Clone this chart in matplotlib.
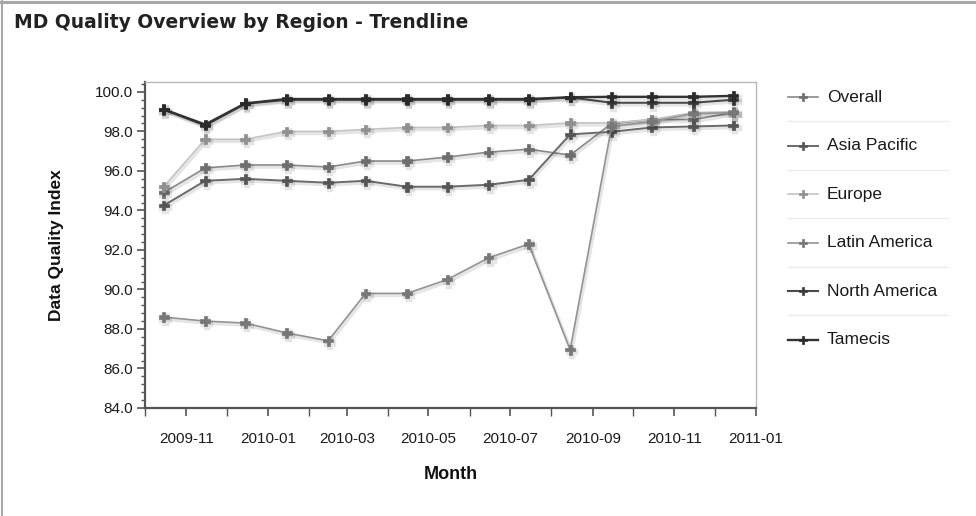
import datetime as dt
import matplotlib
matplotlib.use("Agg")
import matplotlib.pyplot as plt
import matplotlib.dates as mdates
from matplotlib.ticker import MultipleLocator, FormatStrFormatter
from matplotlib.lines import Line2D
import matplotlib.patheffects as pe

months = ["2009-10", "2009-11", "2009-12", "2010-01", "2010-02", "2010-03", "2010-04",
          "2010-05", "2010-06", "2010-07", "2010-08", "2010-09", "2010-10", "2010-11", "2010-12"]

series_names = ["Overall", "Asia Pacific", "Europe", "Latin America", "North America", "Tamecis"]

overall = [94.9, 96.15, 96.3, 96.3, 96.2, 96.5, 96.5, 96.7, 96.95, 97.1, 96.8, 98.4, 98.6, 98.6, 98.95]
asia_pacific = [94.25, 95.5, 95.6, 95.5, 95.4, 95.5, 95.2, 95.2, 95.3, 95.55, 97.85, 97.98, 98.2, 98.25, 98.3]
europe = [95.2, 97.6, 97.6, 98.0, 98.0, 98.1, 98.2, 98.2, 98.3, 98.3, 98.43, 98.43, 98.6, 98.95, 99.0]
latin_america = [88.6, 88.4, 88.3, 87.8, 87.4, 89.8, 89.8, 90.5, 91.6, 92.3, 86.95, 98.25, 98.5, 98.9, 98.95]
north_america = [99.1, 98.3, 99.4, 99.6, 99.6, 99.6, 99.6, 99.6, 99.6, 99.6, 99.72, 99.45, 99.45, 99.45, 99.6]
tamecis = [99.12, 98.35, 99.42, 99.64, 99.64, 99.64, 99.64, 99.64, 99.64, 99.64, 99.73, 99.75, 99.75, 99.75, 99.8]

values = [overall, asia_pacific, europe, latin_america, north_america, tamecis]
line_colors = ["#8a8a8a", "#6a6a6a", "#c4c4c4", "#939393", "#4a4a4a", "#333333"]
marker_colors = ["#6e6e6e", "#555555", "#909090", "#777777", "#3c3c3c", "#2a2a2a"]
line_widths = [1.2, 1.4, 1.2, 1.2, 1.5, 1.7]

xdates = [dt.datetime.strptime(m + "-15", "%Y-%m-%d") for m in months]

plt.rcParams['font.family'] = ['Liberation Sans', 'DejaVu Sans']

fig = plt.figure(figsize=(9.76, 5.16), dpi=100)
ax = fig.add_axes([145 / 976, 1 - 408 / 516, (756 - 145) / 976, (408 - 82) / 516])

shadow = [pe.SimpleLineShadow(offset=(1.0, -1.5), shadow_color="#000000", alpha=0.10, linewidth=2.5), pe.Normal()]

for name, vals, lc, mc, lw in zip(series_names, values, line_colors, marker_colors, line_widths):
    ax.plot(xdates, vals, color=lc, lw=lw, marker="P", markersize=7,
            markerfacecolor=mc, markeredgecolor=mc, markeredgewidth=0.5,
            path_effects=shadow, zorder=3, label=name)

ax.set_xlim(dt.datetime(2009, 10, 1), dt.datetime(2011, 1, 1))
ax.set_ylim(84, 100.5)

ax.xaxis.set_major_locator(mdates.MonthLocator(bymonth=[1, 3, 5, 7, 9, 11]))
ax.xaxis.set_major_formatter(mdates.DateFormatter("%Y-%m"))
ax.xaxis.set_minor_locator(mdates.MonthLocator())
ax.yaxis.set_major_locator(MultipleLocator(2))
ax.yaxis.set_minor_locator(MultipleLocator(0.4))
ax.yaxis.set_major_formatter(FormatStrFormatter("%.1f"))

ax.tick_params(axis="both", which="both", direction="out", colors="#555555", labelcolor="#1a1a1a", labelsize=11)
ax.tick_params(axis="y", which="major", length=6, width=1.2, pad=3)
ax.tick_params(axis="y", which="minor", length=3, width=1.0)
ax.tick_params(axis="x", which="major", length=6, width=1.2, pad=11)
ax.tick_params(axis="x", which="minor", length=6, width=1.0)

for s in ["left", "bottom"]:
    ax.spines[s].set_color("#555555")
    ax.spines[s].set_linewidth(1.6)
for s in ["top", "right"]:
    ax.spines[s].set_color("#b8b8b8")
    ax.spines[s].set_linewidth(1.0)

ax.set_ylabel("Data Quality Index", fontsize=12.5, fontweight="bold", color="#111111")
ax.set_xlabel("Month", fontsize=13, fontweight="bold", color="#111111")
ax.yaxis.set_label_coords((64 - 145) / 611, 0.5)
ax.xaxis.set_label_coords(0.5, -(466 - 408) / 326)

fig.text(14 / 976, 1 - 22 / 516, "MD Quality Overview by Region - Trendline", fontsize=13.5,
         fontweight="bold", family="DejaVu Sans", color="#222222", va="center", ha="left")

# outer frame (top and left edges)
fig.add_artist(Line2D([0, 1], [1 - 1.5 / 516, 1 - 1.5 / 516], color="#a8a8a8", lw=2.2))
fig.add_artist(Line2D([2 / 976, 2 / 976], [0, 1], color="#a8a8a8", lw=1.5))

# legend
W, H = 976, 516
y0, dy = 97, 48.5
for i, (name, lc, mc, lw) in enumerate(zip(series_names, line_colors, marker_colors, line_widths)):
    y = y0 + i * dy
    fig.add_artist(Line2D([788 / W, 818 / W], [1 - y / H, 1 - y / H], color=lc, lw=lw))
    fig.add_artist(Line2D([803 / W], [1 - y / H], marker="P", markersize=6, color=mc,
                          markeredgewidth=0.5, linestyle="none"))
    fig.text(827 / W, 1 - y / H, name, fontsize=12.5, color="#1a1a1a", va="center", ha="left")
    if i < len(series_names) - 1:
        ys = y + dy / 2
        fig.add_artist(Line2D([788 / W, 948 / W], [1 - ys / H, 1 - ys / H], color="#ececec", lw=1.0))

fig.savefig("out.png", dpi=100)
